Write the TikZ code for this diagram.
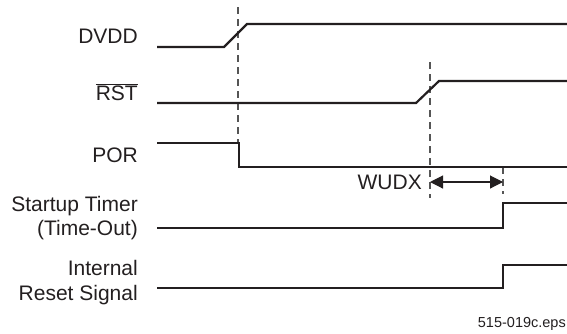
\documentclass[tikz,border=0pt]{standalone}
\usepackage{fontspec}
\setmainfont{Liberation Sans}
\usetikzlibrary{arrows.meta}
\definecolor{ink}{HTML}{231F20}
\definecolor{dashgray}{HTML}{555555}
\tikzset{
  sig/.style={draw=ink, line width=2.2pt, line join=miter},
  guide/.style={draw=dashgray, line width=1.3pt, dash pattern=on 7pt off 5pt},
  lbl/.style={anchor=base east, inner sep=0pt, text=ink, font=\fontsize{21}{25}\selectfont},
  dim/.style={draw=ink, line width=1.1pt, {Triangle[length=13pt,width=13pt]}-{Triangle[length=13pt,width=13pt]}}
}
\begin{document}
\begin{tikzpicture}[x=1pt,y=-1pt]
\useasboundingbox (0,0) rectangle (567,333);
% labels
\node[lbl] (ldvdd) at (138,43) {DVDD};
\node[lbl] (lrst) at (138,100) {$\overline{\mbox{RST}}$};
\node[lbl] (lpor) at (138,162) {POR};
\node[lbl] (lst1) at (138,211) {Startup Timer};
\node[lbl] (lst2) at (138,235) {(Time-Out)};
\node[lbl] (lir1) at (138,275) {Internal};
\node[lbl] (lir2) at (138,300) {Reset Signal};
\node[lbl] (lwudx) at (422,189) {WUDX};
\node[anchor=base east, inner sep=0pt, text=ink, font=\fontsize{14.5}{16}\selectfont] (lfile) at (566,327) {515-019c.eps};
% guides
\coordinate (g1a) at (238,7);
\coordinate (g1b) at (238,143);
\coordinate (g2a) at (430,62);
\coordinate (g2b) at (430,198);
\coordinate (g3a) at (503,167);
\coordinate (g3b) at (503,194);
\draw[guide] (g1a) -- (g1b);
\draw[guide] (g2a) -- (g2b);
\draw[guide] (g3a) -- (g3b);
% signals
\draw[sig] (157,47) -- (224,47) -- (247,24) -- (567,24);
\draw[sig] (157,103) -- (416,103) -- (439,81) -- (567,81);
\draw[sig] (157,143) -- (239,143) -- (239,167) -- (567,167);
\draw[sig] (157,228) -- (503,228) -- (503,203) -- (567,203);
\draw[sig] (157,288) -- (503,288) -- (503,265) -- (567,265);
% dimension arrow
\coordinate (a1) at (430,182);
\coordinate (a2) at (503,182);
\draw[dim] (a1) -- (a2);
\end{tikzpicture}
\end{document}
